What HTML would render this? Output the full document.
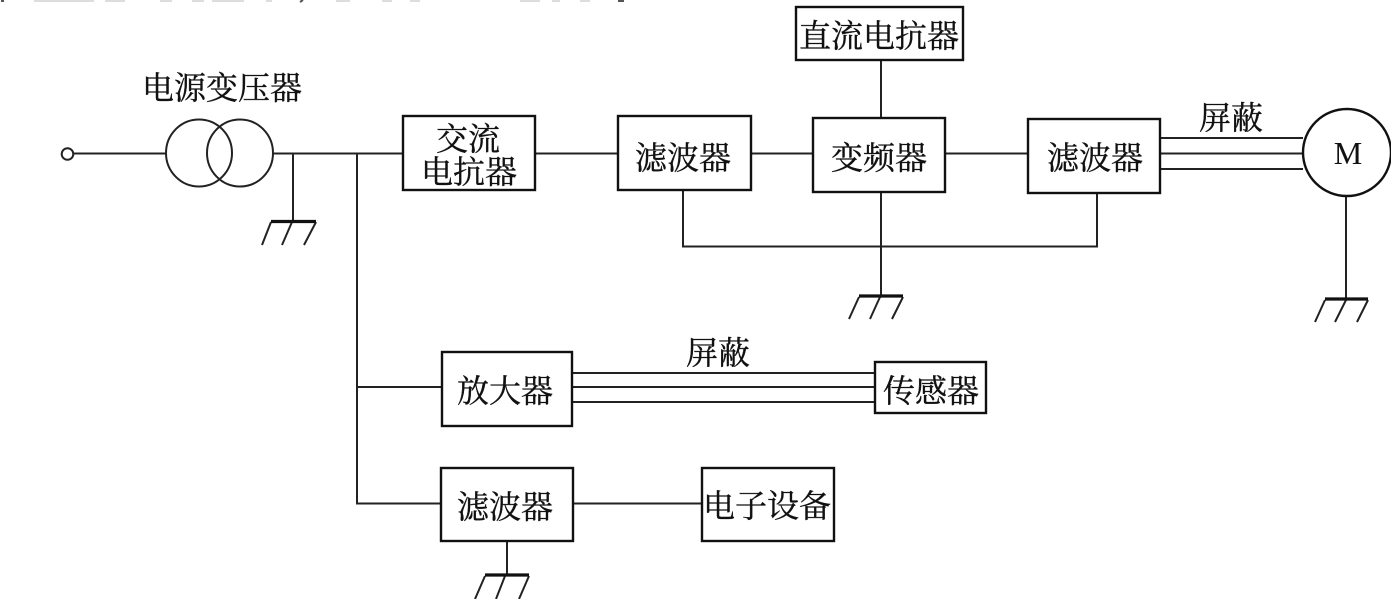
<!DOCTYPE html>
<html>
<head>
<meta charset="utf-8">
<style>
html,body{margin:0;padding:0;background:#fff;width:1391px;height:599px;overflow:hidden}
svg{display:block}
text{font-family:"Liberation Serif","Noto Serif CJK SC",serif;font-size:32px;fill:#111;stroke:#111;stroke-width:.35;text-anchor:middle;dominant-baseline:central}
.l{stroke:#222;stroke-width:2;fill:none}
.b{stroke:#111;stroke-width:2.4;fill:#fff}
.g{stroke:#111;stroke-width:3.2;fill:none}
</style>
</head>
<body>
<svg width="1391" height="599" viewBox="0 0 1391 599" xmlns="http://www.w3.org/2000/svg">
<rect width="1391" height="599" fill="#fff"/>
<!-- cut-off text fragments at top -->
<path d="M34 1H94M105 1H125M160 1H172M192 1H204M212 1H244M266 1H272M336 1H350M382 1H392M410 1H420M520 1H540M552 1H560M580 1H590" stroke="#ddd" stroke-width="2" fill="none"/>
<path d="M1 1H4M300 2L303 0M618 1H624" stroke="#555" stroke-width="2" fill="none"/>

<!-- connectors -->
<path class="l" d="M74 153.500H166M273 153.500H403M293 153.500V221M357 153.500V503.500H441M357 387H442M535 153.500H618M751 153.500H813M945 153.500H1028M881 60V118M881 192V296M683 190V246.500H1097V193M1160 138H1303M1160 153.500H1303M1160 169H1303M1346 196V299M572 373H875M572 387H875M572 402H875M573 503.500H702M507 541V575"/>

<!-- transformer -->
<ellipse class="l" cx="199" cy="153" rx="33" ry="33.500"/>
<ellipse class="l" cx="240" cy="153" rx="33" ry="33.500"/>
<circle cx="67.500" cy="154" r="5.800" fill="#fff" stroke="#222" stroke-width="2"/>

<!-- grounds -->
<g class="l">
<path d="M271 222L262 245M292 222L282 245M316 222L304 245"/>
<path d="M859 297L849 319M880 297L870 319M903 297L892 319"/>
<path d="M1325 300L1315 322M1346 300L1335 322M1368 300L1357 322"/>
<path d="M485 576L475 599M505 576L496 599M529 576L519 599"/>
</g>
<path class="g" d="M271 221.500H316M859 296H903M1325 299H1368M485 575H529"/>

<!-- boxes -->
<rect class="b" x="403" y="116" width="132" height="74"/>
<rect class="b" x="618" y="116" width="133" height="74"/>
<rect class="b" x="813" y="118" width="132" height="74"/>
<rect class="b" x="1028" y="119" width="132" height="74"/>
<rect class="b" x="796" y="7" width="167" height="53"/>
<rect class="b" x="442" y="352" width="130" height="74"/>
<rect class="b" x="875" y="362" width="111" height="51"/>
<rect class="b" x="441" y="468" width="132" height="73"/>
<rect class="b" x="702" y="468" width="132" height="73"/>
<ellipse class="b" cx="1347" cy="152.500" rx="44" ry="43.500"/>

<!-- labels -->
<text x="222" y="88">电源变压器</text>
<text x="468" y="139">交流</text>
<text x="469" y="172">电抗器</text>
<text x="683" y="158">滤波器</text>
<text x="879" y="158">变频器</text>
<text x="1095" y="158">滤波器</text>
<text x="879" y="36">直流电抗器</text>
<text x="1231" y="118">屏蔽</text>
<text x="1348" y="153" style="stroke:none">M</text>
<text x="718" y="353">屏蔽</text>
<text x="505" y="391">放大器</text>
<text x="931" y="391">传感器</text>
<text x="505" y="507">滤波器</text>
<text x="767" y="506">电子设备</text>
</svg>
</body>
</html>
